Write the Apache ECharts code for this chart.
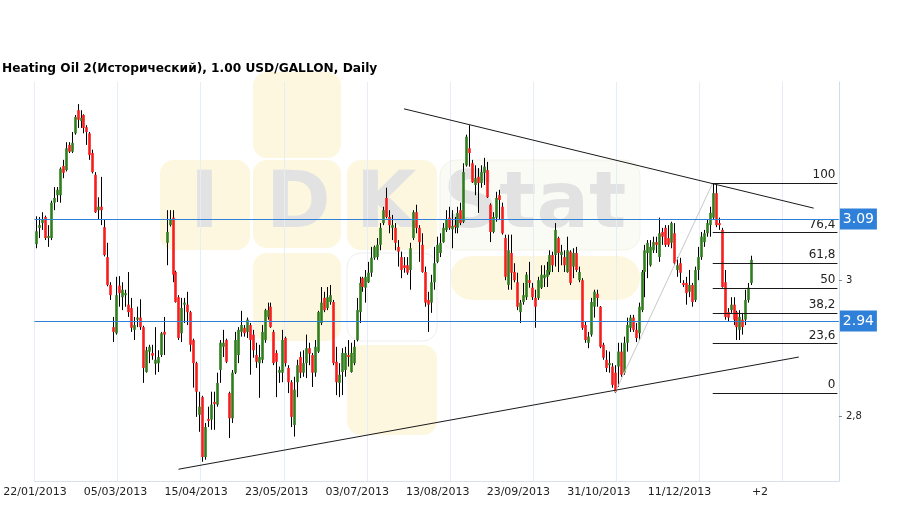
<!DOCTYPE html>
<html><head><meta charset="utf-8">
<script src="https://cdn.jsdelivr.net/npm/echarts@6/dist/echarts.min.js"></script>
<style>html,body{margin:0;padding:0;background:#fff}#c{width:908px;height:509px}</style>
</head><body><div id="c"></div>
<script>
const tickLabels = ['22/01/2013','05/03/2013','15/04/2013','23/05/2013','03/07/2013','13/08/2013','23/09/2013','31/10/2013','11/12/2013','+2'];
const opens = [3.053,3.077,3.084,3.093,3.062,3.062,3.114,3.125,3.125,3.168,
3.162,3.199,3.189,3.216,3.250,3.234,3.243,3.225,3.216,3.187,
3.155,3.103,3.108,3.078,3.034,2.993,2.931,2.922,2.992,2.975,
2.978,2.964,2.959,2.927,2.942,2.945,2.931,2.865,2.895,2.893,
2.877,2.878,2.890,2.924,3.055,3.081,3.092,3.012,2.975,2.922,
2.964,2.964,2.953,2.912,2.878,2.802,2.828,2.740,2.796,2.795,
2.821,2.817,2.868,2.902,2.912,2.834,2.797,2.864,2.890,2.924,
2.930,2.924,2.934,2.920,2.890,2.878,2.883,2.912,2.946,2.961,
2.924,2.893,2.864,2.864,2.915,2.871,2.850,2.787,2.850,2.887,
2.864,2.878,2.900,2.890,2.864,2.895,2.937,2.974,2.959,2.968,
2.968,2.880,2.849,2.865,2.868,2.890,2.865,2.878,2.912,2.953,
3.003,2.989,2.997,3.011,3.033,3.034,3.052,3.084,3.121,3.093,
3.077,3.077,3.049,3.034,3.022,3.022,3.015,3.062,3.100,3.077,
3.052,3.012,2.971,2.967,2.997,3.027,3.040,3.056,3.074,3.092,
3.075,3.081,3.077,3.103,3.086,3.169,3.194,3.172,3.140,3.152,
3.143,3.158,3.162,3.111,3.071,3.092,3.125,3.108,3.062,2.993,
3.040,3.012,2.997,2.953,2.968,2.975,3.000,2.989,2.974,2.974,
2.989,3.003,3.005,3.012,3.037,3.037,3.062,3.037,3.034,3.012,
3.042,3.020,3.040,3.000,3.000,2.934,2.908,2.920,2.961,2.980,
2.961,2.905,2.883,2.875,2.873,2.864,2.873,2.895,2.864,2.908,
2.930,2.945,2.927,2.922,2.956,3.012,3.040,3.022,3.044,3.056,
3.034,3.071,3.077,3.062,3.055,3.069,3.015,3.025,2.996,2.996,
2.983,2.993,2.971,3.015,3.034,3.056,3.069,3.081,3.092,3.128,
3.084,3.074,2.997,2.953,2.956,2.964,2.953,2.927,2.942,2.942,
2.971,2.996];
const closes = [3.072,3.081,3.089,3.062,3.065,3.114,3.121,3.133,3.164,3.158,
3.194,3.189,3.202,3.240,3.236,3.239,3.224,3.218,3.184,3.159,
3.100,3.108,3.103,3.037,2.993,2.978,2.924,2.978,2.981,2.986,
2.981,2.953,2.930,2.934,2.945,2.931,2.871,2.897,2.902,2.889,
2.883,2.887,2.922,2.920,3.071,3.089,3.008,2.968,2.915,2.959,
2.967,2.953,2.905,2.878,2.836,2.814,2.740,2.784,2.793,2.817,
2.818,2.849,2.908,2.908,2.880,2.797,2.864,2.912,2.927,2.934,
2.922,2.942,2.912,2.897,2.880,2.887,2.924,2.956,2.956,2.931,
2.878,2.880,2.868,2.912,2.878,2.850,2.799,2.839,2.875,2.864,
2.878,2.900,2.892,2.864,2.902,2.953,2.967,2.956,2.975,2.978,
2.878,2.850,2.861,2.893,2.893,2.887,2.893,2.902,2.956,2.996,
2.990,3.005,3.011,3.033,3.049,3.052,3.077,3.103,3.093,3.081,
3.081,3.055,3.042,3.015,3.018,3.011,3.047,3.100,3.077,3.056,
3.012,2.967,2.964,2.997,3.025,3.052,3.055,3.077,3.089,3.077,
3.080,3.078,3.099,3.084,3.159,3.211,3.187,3.144,3.150,3.143,
3.159,3.167,3.122,3.071,3.093,3.121,3.118,3.069,3.005,3.044,
3.011,3.000,2.961,2.967,2.978,3.008,2.996,2.975,2.961,3.000,
3.008,3.008,3.015,3.037,3.022,3.074,3.040,3.042,3.022,3.044,
2.996,3.040,3.015,3.012,2.930,2.912,2.917,2.968,2.983,2.974,
2.902,2.886,2.871,2.878,2.846,2.836,2.895,2.861,2.908,2.934,
2.945,2.927,2.915,2.961,3.012,3.044,3.055,3.049,3.056,3.052,
3.069,3.064,3.052,3.052,3.084,3.025,3.022,3.011,2.993,2.981,
2.993,2.968,3.015,3.034,3.064,3.069,3.084,3.099,3.128,3.081,
3.081,2.990,2.946,2.945,2.964,2.942,2.931,2.946,2.931,2.971,
2.989,3.030];
const lows = [3.047,3.062,3.074,3.059,3.049,3.059,3.103,3.115,3.114,3.150,
3.160,3.187,3.187,3.214,3.224,3.224,3.216,3.199,3.177,3.157,
3.099,3.089,3.081,3.035,2.991,2.971,2.909,2.920,2.961,2.956,
2.961,2.946,2.924,2.912,2.931,2.927,2.849,2.864,2.878,2.883,
2.861,2.865,2.887,2.890,3.022,3.079,2.997,2.967,2.912,2.909,
2.937,2.934,2.895,2.842,2.799,2.777,2.733,2.736,2.784,2.780,
2.780,2.814,2.849,2.887,2.878,2.768,2.790,2.862,2.878,2.917,
2.917,2.915,2.861,2.886,2.871,2.827,2.878,2.908,2.942,2.930,
2.875,2.828,2.849,2.850,2.873,2.834,2.784,2.770,2.828,2.856,
2.858,2.856,2.875,2.843,2.858,2.893,2.934,2.953,2.956,2.964,
2.875,2.831,2.828,2.831,2.858,2.873,2.864,2.875,2.910,2.937,
2.983,2.967,2.996,3.005,3.030,3.030,3.044,3.081,3.091,3.069,
3.059,3.044,3.020,3.003,3.011,3.008,2.986,3.059,3.069,3.027,
3.011,2.961,2.924,2.952,2.986,3.025,3.034,3.055,3.071,3.074,
3.047,3.069,3.069,3.081,3.084,3.167,3.167,3.143,3.125,3.099,
3.136,3.140,3.121,3.056,3.069,3.086,3.089,3.067,3.000,2.986,
2.986,2.997,2.956,2.937,2.964,2.971,2.989,2.971,2.930,2.971,
2.987,2.990,2.990,3.008,3.012,3.020,3.012,3.022,3.012,3.011,
2.993,3.003,3.012,2.997,2.927,2.908,2.900,2.917,2.945,2.961,
2.900,2.883,2.865,2.864,2.842,2.834,2.843,2.858,2.861,2.895,
2.924,2.924,2.909,2.912,2.953,2.975,3.003,3.020,3.040,3.040,
3.027,3.052,3.049,3.049,3.047,3.022,3.005,2.996,2.990,2.964,
2.975,2.961,2.968,3.000,3.030,3.049,3.064,3.064,3.089,3.078,
3.074,2.989,2.942,2.939,2.952,2.934,2.912,2.912,2.920,2.934,
2.967,2.993];
const highs = [3.094,3.093,3.100,3.095,3.081,3.117,3.137,3.137,3.166,3.177,
3.203,3.203,3.218,3.243,3.259,3.250,3.244,3.228,3.218,3.192,
3.159,3.122,3.152,3.089,3.055,2.997,2.946,3.005,3.006,2.997,
2.986,3.012,2.974,2.946,2.961,2.972,2.933,2.902,2.905,2.905,
2.931,2.897,2.924,2.946,3.103,3.103,3.103,3.014,2.978,2.974,
2.974,2.983,2.955,2.914,2.880,2.836,2.830,2.790,2.814,2.836,
2.836,2.864,2.912,2.927,2.914,2.836,2.868,2.924,2.931,2.955,
2.934,2.945,2.937,2.927,2.908,2.905,2.934,2.958,2.967,2.967,
2.927,2.897,2.873,2.927,2.917,2.875,2.853,2.858,2.883,2.895,
2.897,2.920,2.908,2.893,2.912,2.955,2.990,2.983,2.990,2.993,
2.971,2.902,2.878,2.900,2.902,2.912,2.908,2.912,2.974,3.005,
3.005,3.015,3.027,3.049,3.051,3.062,3.084,3.108,3.136,3.103,
3.096,3.084,3.059,3.042,3.034,3.034,3.055,3.103,3.111,3.081,
3.069,3.020,2.983,3.008,3.049,3.064,3.069,3.084,3.103,3.108,
3.103,3.093,3.108,3.114,3.172,3.214,3.228,3.177,3.169,3.165,
3.169,3.180,3.174,3.113,3.100,3.130,3.133,3.114,3.067,3.067,
3.067,3.025,3.011,2.971,2.996,3.012,3.027,2.996,2.986,3.005,
3.022,3.022,3.027,3.044,3.042,3.084,3.064,3.052,3.044,3.064,
3.044,3.047,3.049,3.020,3.003,2.939,2.924,2.974,2.986,2.986,
2.962,2.908,2.897,2.895,2.878,2.875,2.908,2.908,2.917,2.945,
2.949,2.949,2.937,2.967,3.015,3.052,3.059,3.059,3.064,3.064,
3.092,3.077,3.081,3.081,3.086,3.084,3.034,3.033,3.000,3.005,
3.015,2.996,3.020,3.049,3.071,3.074,3.089,3.108,3.143,3.140,
3.092,3.077,3.015,2.959,2.975,2.975,2.955,2.956,2.952,2.986,
2.996,3.036];
const levelLines = [3.09, 2.94];
const yTickValues = [2.8, 3];
const fibLevels = [100, 76.4, 61.8, 50, 38.2, 23.6, 0];
const fibLowIdx = 195, fibHighIdx = 228;
const trendTop = [[124, 3.252], [262, 3.106]];
const trendBottom = [[48, 2.722], [257, 2.887]];
const barsPerTick = 28;
const totalSlots = 271;

const FONT = 'DejaVu Sans';
const GREEN = '#2f7d1c', RED = '#f81c1c', BLUE = '#2f80d8';
const chart = echarts.init(document.getElementById('c'), null, {renderer: 'canvas'});

const cats = [];
for (let i = 0; i < totalSlots; i++) cats.push(String(i));
const candleData = opens.map((o, i) => [i, o, closes[i], lows[i], highs[i]]);

function renderCandle(params, api) {
  const i = api.value(0), o = api.value(1), c = api.value(2), l = api.value(3), h = api.value(4);
  const pO = api.coord([i, o]), pC = api.coord([i, c]), pL = api.coord([i, l]), pH = api.coord([i, h]);
  const x = Math.round(pO[0]) + 0.5;
  const top = Math.min(pO[1], pC[1]), bot = Math.max(pO[1], pC[1]);
  return {type: 'group', children: [
    {type: 'line', shape: {x1: x, y1: pH[1], x2: x, y2: pL[1]}, style: {stroke: '#000', lineWidth: 1}},
    {type: 'rect', shape: {x: x - 1.3, y: top, width: 2.6, height: Math.max(bot - top, 1.2)}, style: {fill: c >= o ? GREEN : RED}}
  ]};
}

function renderLevel(params, api) {
  const v = api.value(0);
  const p = api.coord([0, v]);
  const cs = params.coordSys;
  const y = Math.round(p[1]) + 0.5;
  return {type: 'group', children: [
    {type: 'line', shape: {x1: cs.x, y1: y, x2: cs.x + cs.width, y2: y}, style: {stroke: BLUE, lineWidth: 1}},
    {type: 'rect', shape: {x: cs.x + cs.width + 1, y: y - 11, width: 37, height: 21}, style: {fill: BLUE}},
    {type: 'text', x: cs.x + cs.width + 19.5, y: y, style: {text: v.toFixed(2), fill: '#fff', font: '14px "DejaVu Sans"',
      textAlign: 'center', textVerticalAlign: 'middle'}}
  ]};
}

const H = highs[fibHighIdx], L = lows[fibLowIdx];
const blackData = [];
fibLevels.forEach(p => {
  const v = L + (H - L) * p / 100;
  blackData.push([
    {coord: [fibHighIdx, v],
     label: {show: true, position: 'insideEndTop', formatter: String(p).replace('.', ','), color: '#222',
             fontSize: 12, fontFamily: FONT, distance: [2, 2]}},
    {coord: [totalSlots - 1, v]}
  ]);
});
blackData.push([{coord: trendTop[0]}, {coord: trendTop[1]}]);
blackData.push([{coord: trendBottom[0]}, {coord: trendBottom[1]}]);
const grayData = [[{coord: [fibLowIdx, L]}, {coord: [fibHighIdx, H]}]];

const wmY = '#fcf7de';
const wm = [];
function rr(x, y, w, h, fill, r, stroke) {
  wm.push({type: 'rect', z: -10, silent: true, shape: {x: x, y: y, width: w, height: h, r: r || 14},
           style: {fill: fill, stroke: stroke || null, lineWidth: 1}});
}
rr(253, 72, 88, 86, wmY);
rr(160, 160, 90, 90, wmY);
rr(253, 160, 88, 88, wmY);
rr(347, 160, 90, 90, wmY);
rr(440, 160, 200, 90, '#fbfbf6', 16, '#f4f2e6');
rr(253, 253, 88, 88, wmY);
rr(347, 253, 90, 88, '#ffffff', 14, '#eeeeee');
rr(450, 256, 190, 44, wmY, 22);
rr(347, 345, 90, 90, wmY);
function wt(text, x, y) {
  wm.push({type: 'text', z: -9, silent: true, x: x, y: y,
           style: {text: text, fill: '#e2e2e2', font: 'bold 78px "DejaVu Sans"', textAlign: 'left', textVerticalAlign: 'middle'}});
}
wt('I', 190, 207);
wt('D', 266, 207);
wt('K', 356, 207);
wt('Stat', 443, 207);

function markHost(color, data, z) {
  return {type: 'line', xAxisIndex: 0, yAxisIndex: 0, data: [], symbol: 'none', silent: true, z: z,
          color: color, lineStyle: {color: color, opacity: 0},
          markLine: {silent: true, symbol: ['none', 'none'], animation: false, label: {show: false},
                     lineStyle: {color: color, width: 1, type: 'solid', opacity: 1},
                     emphasis: {disabled: true}, data: data}};
}

chart.setOption({
  animation: false,
  backgroundColor: '#fff',
  title: {text: 'Heating Oil 2(Исторический), 1.00 USD/GALLON, Daily', left: 2, top: 63, padding: 0,
          textStyle: {fontFamily: FONT, fontSize: 12.2, fontWeight: 'bold', color: '#000'}},
  graphic: wm,
  grid: [
    {left: 34.5, right: 69.1, top: 82, bottom: 28},
    {left: 35, right: 148, top: 82, bottom: 28}
  ],
  xAxis: [
    {type: 'category', gridIndex: 0, data: cats, boundaryGap: true,
     axisLine: {show: true, lineStyle: {color: '#d6e1ec'}}, axisTick: {show: false}, axisLabel: {show: false},
     splitLine: {show: true, interval: (idx) => idx % barsPerTick === 0, lineStyle: {color: '#e5edf6', width: 1}}},
    {type: 'category', gridIndex: 1, data: tickLabels, boundaryGap: false,
     axisLine: {show: false}, axisTick: {show: false}, splitLine: {show: false},
     axisLabel: {show: true, interval: 0, margin: 6, color: '#222', fontFamily: FONT, fontSize: 11}}
  ],
  yAxis: [
    {type: 'value', gridIndex: 0, position: 'right', min: 2.7047, max: 3.2915, scale: true,
     axisLine: {show: true, lineStyle: {color: '#cfdeee'}},
     axisTick: {show: true, length: 3, customValues: yTickValues, lineStyle: {color: '#888'}},
     splitLine: {show: false},
     axisLabel: {show: true, margin: 7, color: '#222', fontFamily: FONT, fontSize: 10, customValues: yTickValues,
       formatter: v => String(+v.toFixed(1)).replace('.', ',')}},
    {type: 'value', gridIndex: 1, show: false, min: 0, max: 1}
  ],
  series: [
    {type: 'custom', xAxisIndex: 0, yAxisIndex: 0, renderItem: renderCandle, data: candleData,
     encode: {x: 0, y: [1, 2, 3, 4]}, clip: true, silent: true, z: 3},
    markHost('#c8c8c8', grayData, 2),
    markHost('#1a1a1a', blackData, 4),
    {type: 'custom', xAxisIndex: 0, yAxisIndex: 0, renderItem: renderLevel, data: levelLines.map(v => [v]),
     encode: {y: 0}, clip: false, silent: true, z: 6}
  ]
});
</script>
</body></html>
